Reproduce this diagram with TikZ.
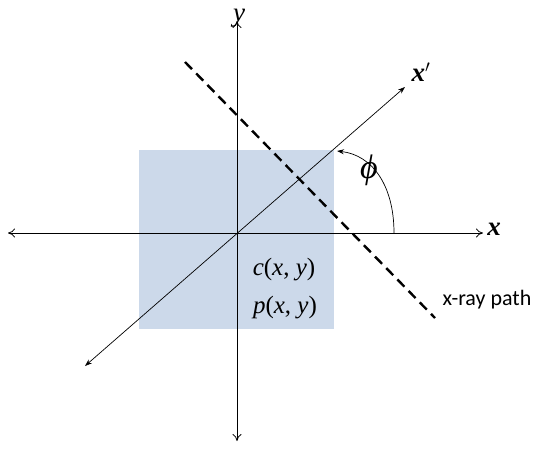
\documentclass[tikz,border=0pt]{standalone}
\usepackage{fontspec}
\setmainfont{Liberation Serif}
\newfontfamily\pathfont{Carlito}
\usetikzlibrary{arrows.meta}
\definecolor{boxblue}{RGB}{204,217,234}
\begin{document}
\begin{tikzpicture}[x=1pt,y=-1pt,
  axis/.style={line width=0.8pt,{To[length=7pt,width=9pt]}-{To[length=7pt,width=9pt]}},
  rotaxis/.style={line width=0.7pt,{Stealth[length=7pt,width=5pt]}-{Stealth[length=7pt,width=5pt]}},
  raypath/.style={line width=2.4pt,dash pattern=on 10pt off 6pt},
  angarc/.style={line width=0.7pt,-{Stealth[length=7pt,width=5pt]}},
  lbl/.style={inner sep=1pt,font=\fontsize{27}{30}\selectfont},
  coord/.style={font=\fontsize{25}{29}\selectfont}]
\useasboundingbox (0,0) rectangle (552,450);
\fill[boxblue] (139,150) rectangle (334,329);
% axes
\coordinate (O) at (237,233);
\coordinate (xl) at (8,233);
\coordinate (xr) at (483,233);
\coordinate (yb) at (237,441);
\coordinate (yt) at (237,21);
\draw[axis] (xl) -- (xr);
\draw[axis] (yb) -- (yt);
\node[lbl] (xlab) at (494,229) {\textbf{\textit{x}}};
\node[lbl] (ylab) at (239,18) {\textit{y}};
% rotated axis
\coordinate (xpl) at (85,366);
\coordinate (xpr) at (405,87);
\draw[rotaxis] (xpl) -- (xpr);
\node[lbl] (xplab) at (421,72) {\textbf{\textit{x}}$'$};
% x-ray path
\coordinate (ray1) at (185,62);
\coordinate (ray2) at (435,318);
\draw[raypath] (ray1) -- (ray2);
\node[font=\pathfont\fontsize{22}{25}\selectfont] (raylab) at (487,300) {x-ray path};
% angle
\coordinate (a1) at (394,233);
\coordinate (a2) at (337,151);
\draw[angarc] (a1) .. controls (394,185) and (372,155) .. (a2);
\node[font=\fontsize{34}{38}\selectfont] (philab) at (369,170) {\textit{ϕ}};
% labels in the box
\node[coord] (clab) at (284,270) {\textit{c}(\textit{x}, \textit{y})};
\node[coord] (plab) at (285,308) {\textit{p}(\textit{x}, \textit{y})};
\end{tikzpicture}
\end{document}
